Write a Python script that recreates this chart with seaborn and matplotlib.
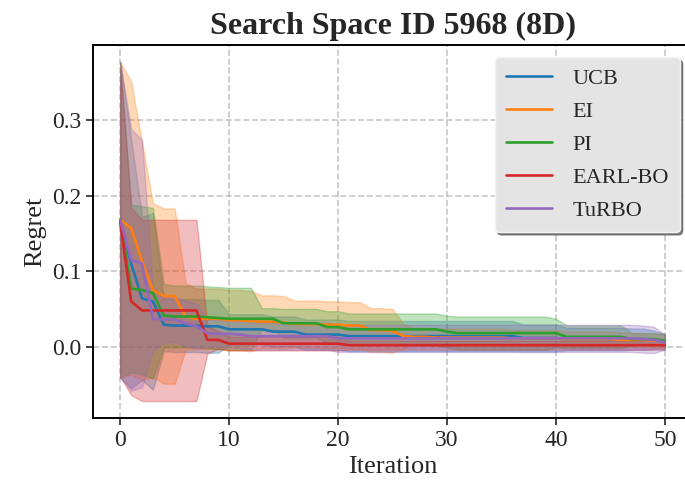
import numpy as np
import pandas as pd
import seaborn as sns
import matplotlib
matplotlib.use("Agg")
import matplotlib.pyplot as plt

iterations = list(range(51))
methods = ["UCB", "EI", "PI", "EARL-BO", "TuRBO"]

ucb_mean = [0.168, 0.110, 0.064, 0.060, 0.029, 0.028, 0.028, 0.028, 0.027, 0.027,
            0.023, 0.023, 0.023, 0.023, 0.020, 0.020, 0.020, 0.016, 0.016, 0.016,
            0.016, 0.014, 0.014, 0.014, 0.014, 0.014, 0.014, 0.014, 0.014, 0.014,
            0.014, 0.014, 0.014, 0.014, 0.014, 0.014, 0.014, 0.0115, 0.0115, 0.0115,
            0.0115, 0.010, 0.010, 0.010, 0.010, 0.010, 0.010, 0.010, 0.010, 0.009,
            0.007]
ucb_std = [0.209, 0.165, 0.108, 0.117, 0.035, 0.035, 0.035, 0.035, 0.035, 0.035,
           0.020, 0.020, 0.020, 0.020, 0.020, 0.020, 0.020, 0.020, 0.020, 0.020,
           0.020, 0.020, 0.020, 0.020, 0.020, 0.020, 0.020, 0.020, 0.020, 0.020,
           0.020, 0.020, 0.020, 0.020, 0.020, 0.020, 0.020, 0.018, 0.018, 0.018,
           0.018, 0.015, 0.015, 0.015, 0.015, 0.015, 0.015, 0.014, 0.014, 0.012,
           0.010]

ei_mean = [0.168, 0.157, 0.113, 0.075, 0.067, 0.067, 0.040, 0.037, 0.037, 0.037,
           0.035, 0.035, 0.034, 0.033, 0.033, 0.032, 0.030, 0.030, 0.030, 0.029,
           0.029, 0.028, 0.028, 0.022, 0.022, 0.021, 0.014, 0.013, 0.013, 0.012,
           0.012, 0.012, 0.012, 0.012, 0.012, 0.012, 0.011, 0.011, 0.011, 0.011,
           0.011, 0.010, 0.010, 0.010, 0.010, 0.010, 0.009, 0.009, 0.009, 0.008,
           0.008]
ei_std = [0.209, 0.194, 0.157, 0.115, 0.116, 0.116, 0.044, 0.040, 0.040, 0.040,
          0.040, 0.040, 0.040, 0.035, 0.035, 0.035, 0.031, 0.031, 0.031, 0.031,
          0.031, 0.031, 0.031, 0.029, 0.029, 0.029, 0.016, 0.012, 0.012, 0.012,
          0.012, 0.012, 0.012, 0.012, 0.012, 0.012, 0.011, 0.011, 0.011, 0.011,
          0.011, 0.010, 0.010, 0.010, 0.010, 0.010, 0.010, 0.009, 0.009, 0.009,
          0.009]

pi_mean = [0.168, 0.077, 0.075, 0.071, 0.041, 0.040, 0.040, 0.040, 0.039, 0.038,
           0.037, 0.037, 0.037, 0.037, 0.037, 0.031, 0.031, 0.031, 0.031, 0.026,
           0.026, 0.023, 0.023, 0.023, 0.023, 0.023, 0.023, 0.023, 0.023, 0.023,
           0.020, 0.018, 0.018, 0.018, 0.018, 0.018, 0.018, 0.018, 0.018, 0.018,
           0.018, 0.013, 0.013, 0.013, 0.013, 0.013, 0.013, 0.010, 0.010, 0.010,
           0.008]
pi_std = [0.209, 0.111, 0.111, 0.113, 0.042, 0.041, 0.041, 0.041, 0.041, 0.041,
          0.041, 0.041, 0.041, 0.014, 0.014, 0.019, 0.019, 0.019, 0.019, 0.021,
          0.021, 0.021, 0.021, 0.021, 0.021, 0.021, 0.021, 0.021, 0.021, 0.021,
          0.021, 0.022, 0.022, 0.022, 0.022, 0.022, 0.022, 0.022, 0.022, 0.022,
          0.019, 0.015, 0.015, 0.015, 0.015, 0.015, 0.015, 0.008, 0.008, 0.008,
          0.008]

earl_mean = [0.165, 0.060, 0.048, 0.048, 0.048, 0.048, 0.048, 0.048, 0.009, 0.009,
             0.004, 0.004, 0.004, 0.004, 0.004, 0.004, 0.004, 0.004, 0.004, 0.004,
             0.004, 0.002, 0.002, 0.002, 0.002, 0.002, 0.002, 0.002, 0.002, 0.002,
             0.002, 0.002, 0.002, 0.002, 0.002, 0.002, 0.002, 0.002, 0.002, 0.002,
             0.002, 0.002, 0.002, 0.002, 0.002, 0.002, 0.002, 0.002, 0.002, 0.002,
             0.002]
earl_std = [0.205, 0.124, 0.120, 0.120, 0.120, 0.120, 0.120, 0.120, 0.018, 0.012,
            0.009, 0.009, 0.009, 0.009, 0.009, 0.009, 0.009, 0.009, 0.009, 0.009,
            0.009, 0.006, 0.006, 0.006, 0.006, 0.006, 0.006, 0.006, 0.006, 0.006,
            0.006, 0.006, 0.006, 0.006, 0.006, 0.006, 0.006, 0.006, 0.006, 0.006,
            0.006, 0.006, 0.006, 0.006, 0.006, 0.006, 0.006, 0.006, 0.006, 0.006,
            0.006]

turbo_mean = [0.168, 0.115, 0.110, 0.037, 0.036, 0.036, 0.031, 0.027, 0.018, 0.017,
              0.017, 0.016, 0.014, 0.014, 0.014, 0.014, 0.014, 0.014, 0.014, 0.014,
              0.011, 0.011, 0.011, 0.011, 0.011, 0.011, 0.011, 0.011, 0.011, 0.011,
              0.011, 0.011, 0.011, 0.011, 0.011, 0.011, 0.011, 0.011, 0.011, 0.011,
              0.011, 0.011, 0.011, 0.011, 0.011, 0.011, 0.011, 0.011, 0.010, 0.009,
              0.006]
turbo_std = [0.209, 0.173, 0.164, 0.042, 0.030, 0.030, 0.030, 0.030, 0.018, 0.018,
             0.018, 0.018, 0.018, 0.018, 0.018, 0.018, 0.018, 0.018, 0.018, 0.018,
             0.018, 0.018, 0.018, 0.018, 0.018, 0.018, 0.018, 0.018, 0.018, 0.018,
             0.018, 0.018, 0.018, 0.018, 0.018, 0.018, 0.018, 0.018, 0.018, 0.018,
             0.018, 0.018, 0.018, 0.018, 0.018, 0.018, 0.018, 0.018, 0.018, 0.0175,
             0.010]

means = [ucb_mean, ei_mean, pi_mean, earl_mean, turbo_mean]
stds = [ucb_std, ei_std, pi_std, earl_std, turbo_std]

sns.set_style("white")
plt.rcParams["font.family"] = ["Liberation Serif", "DejaVu Serif"]

fig = plt.figure(figsize=(6.85, 4.88), dpi=100)
# the reference is cropped so that the right spine lies just outside the image
ax = fig.add_axes([0.1358, 0.1434, 0.8745, 0.7643])

palette = sns.color_palette("tab10", 5)
rows = []
for name, m in zip(methods, means):
    for it, v in zip(iterations, m):
        rows.append({"Iteration": it, "Regret": v, "Method": name})
df = pd.DataFrame(rows)

for k, (name, m, s) in enumerate(zip(methods, means, stds)):
    sub = df[df["Method"] == name]
    sns.lineplot(data=sub, x="Iteration", y="Regret", ax=ax, color=palette[k],
                 label=name, linewidth=1.9, errorbar=None)
    m_arr = np.array(m)
    s_arr = np.array(s)
    ax.fill_between(iterations, m_arr - s_arr, m_arr + s_arr, color=palette[k],
                    alpha=0.3)

ax.set_xlim(-2.5, 52.5)
ax.set_xticks([0, 10, 20, 30, 40, 50])
ax.set_yticks([0.0, 0.1, 0.2, 0.3])
ax.grid(True, linestyle="--", color="#b8b8b8", linewidth=1.2, alpha=0.8)
for sp in ax.spines.values():
    sp.set_visible(True)
    sp.set_color("black")
    sp.set_linewidth(1.4)
ax.tick_params(axis="both", labelsize=17, direction="out", length=5, width=1.2,
               left=True, bottom=True)
ax.set_xlabel("Iteration", fontsize=19)
ax.set_ylabel("Regret", fontsize=19)
ax.set_title("Search Space ID 5968 (8D)", fontsize=23, fontweight="bold", pad=8)

leg = ax.legend(loc="upper right", fontsize=16, shadow={"color": "0.4", "alpha": 0.85},
                fancybox=True, facecolor="#e4e4e4", edgecolor="#f4f4f4",
                framealpha=1.0, handlelength=2.1, handletextpad=0.9,
                borderpad=0.5, labelspacing=0.56, borderaxespad=0.55)

fig.savefig("out.png", dpi=100)
